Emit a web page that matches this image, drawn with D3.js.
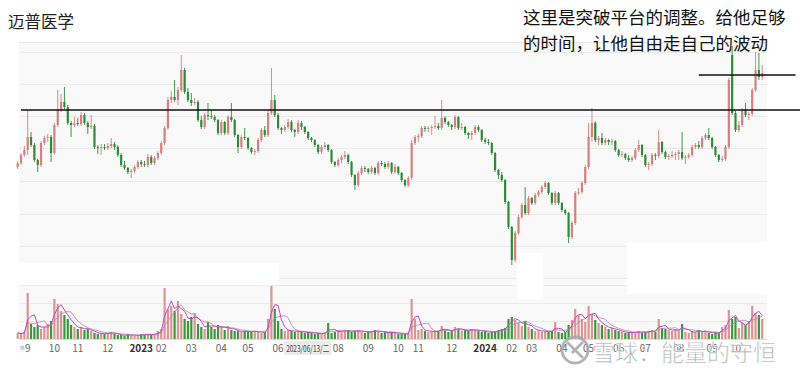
<!DOCTYPE html>
<html>
<head>
<meta charset="utf-8">
<script src="https://cdn.jsdelivr.net/npm/d3@7"></script>
<style>
body { margin: 0; background: #fff; }
svg { display: block; font-family: "Noto Sans CJK SC", "Noto Sans", sans-serif; }
</style>
</head>
<body>
<svg id="chart" width="800" height="378"></svg>
<script>
// daily-ish candles, [open, close, high, low]
var kline = [
	[13.3,13.7,13.9,13.1],[13.7,14.5,14.7,13.5],[14.5,15.0,15.4,14.3],[15.0,16.3,19.0,14.5],[16.3,15.5,16.8,15.3],
	[15.5,14.0,15.7,13.8],[14.0,13.5,14.1,12.8],[13.5,15.7,15.9,13.3],[15.7,16.2,16.4,15.5],[16.2,16.3,16.6,15.8],
	[16.3,14.7,16.5,13.8],[14.7,17.5,17.7,14.5],[17.5,19.0,21.0,17.3],[19.0,19.8,20.6,18.8],[19.8,19.3,21.3,19.1],
	[19.3,17.7,19.5,17.5],[17.7,17.5,17.9,16.3],[17.5,17.7,18.3,17.3],[17.7,17.6,18.2,17.4],[17.6,18.5,18.8,17.4],
	[18.5,17.7,18.7,17.5],[17.7,17.3,17.9,16.6],[17.3,17.4,18.5,17.1],[17.4,15.3,17.6,15.1],[15.3,15.2,15.5,14.6],
	[15.2,15.3,15.6,14.5],[15.3,15.2,15.6,15.0],[15.2,15.4,15.7,15.0],[15.4,15.6,16.2,15.2],[15.6,15.3,15.8,15.0],
	[15.3,14.5,15.5,14.3],[14.5,13.5,14.7,13.3],[13.5,13.2,13.9,13.0],[13.2,12.8,13.3,12.6],[12.8,12.9,13.1,12.2],
	[12.9,13.3,13.5,12.7],[13.3,13.8,14.0,13.1],[13.8,13.6,14.0,13.3],[13.6,13.5,13.9,13.3],[13.5,14.3,14.6,13.3],
	[14.3,13.7,14.5,13.5],[13.7,14.2,14.4,13.5],[14.2,14.7,14.9,14.0],[14.7,15.7,15.9,14.5],[15.7,17.2,17.4,15.5],
	[17.2,20.0,20.3,17.0],[20.0,20.3,20.9,19.7],[20.3,20.0,22.0,19.8],[20.0,21.0,21.3,19.5],[21.0,23.0,24.5,20.8],
	[23.0,20.8,23.2,20.6],[20.8,20.0,21.2,19.8],[20.0,19.7,20.7,19.4],[19.7,19.8,20.2,19.5],[19.8,18.0,20.0,17.8],
	[18.0,17.3,18.4,17.1],
	[17.3,18.5,18.7,17.1],[18.5,18.4,19.7,18.0],[18.4,18.3,19.0,18.1],[18.3,18.0,18.5,17.8],[18.0,16.7,18.1,16.5],
	[16.7,17.8,18.0,16.5],[17.8,16.7,17.9,16.5],[16.7,18.3,18.5,16.5],[18.3,18.0,19.7,17.8],[18.0,16.5,18.1,16.3],
	[16.5,15.3,16.6,14.7],[15.3,16.3,16.5,15.1],[16.3,16.2,17.2,16.0],[16.2,15.2,16.3,15.0],[15.2,14.8,15.3,14.6],
	[14.8,14.9,15.1,14.5],[14.9,16.0,16.2,14.7],[16.0,17.0,17.2,15.8],[17.0,16.5,17.4,16.3],[16.5,18.7,18.9,16.3],
	[18.7,20.0,23.2,18.5],[20.0,18.5,20.5,18.3],[18.5,17.2,18.7,17.0],[17.2,17.0,17.3,16.6],[17.0,17.3,17.5,16.8],
	[17.3,17.8,18.1,17.1],[17.8,17.0,18.0,16.8],[17.0,16.8,17.1,16.3],[16.8,17.7,18.0,16.6],[17.7,17.3,17.9,17.0],
	[17.3,16.8,17.4,16.6],[16.8,16.2,16.9,16.0],[16.2,16.0,16.3,15.8],[16.0,15.5,16.1,15.3],[15.5,14.8,15.6,14.6],
	[14.8,15.3,15.5,14.6],[15.3,15.5,15.8,15.1],[15.5,15.0,15.6,14.8],[15.0,13.8,15.1,13.6],[13.8,13.5,13.9,13.3],
	[13.5,14.0,14.2,13.3],[14.0,14.3,14.5,13.7],[14.3,14.5,14.9,14.1],[14.5,13.8,14.6,13.6],[13.8,12.5,13.9,12.3],
	[12.5,11.5,12.6,11.0],[11.5,12.7,12.9,11.3],[12.7,13.2,13.4,12.5],[13.2,13.1,13.4,12.8],[13.1,12.8,13.2,12.6],
	[12.8,13.2,13.4,12.6],[13.2,12.7,13.3,12.5],[12.7,13.7,13.9,12.5],[13.7,13.6,13.9,13.4],[13.6,13.3,13.8,13.1],
	[13.3,13.7,13.9,13.1],
	[13.7,12.8,13.8,12.6],[12.8,13.3,13.6,12.6],[13.3,12.7,13.4,12.5],[12.7,12.0,12.8,11.8],[12.0,11.5,12.1,11.3],
	[11.5,12.2,12.4,11.3],[12.2,15.7,16.0,12.0],[15.7,16.3,16.5,15.5],[16.3,16.4,16.6,15.8],[16.4,17.2,17.4,16.2],
	[17.2,17.1,17.4,16.8],[17.1,17.2,17.4,16.8],[17.2,17.3,17.5,16.5],[17.3,17.4,18.4,17.1],[17.4,17.2,17.7,17.0],
	[17.2,18.2,20.0,17.0],[18.2,17.8,18.4,17.6],[17.8,17.5,17.9,17.3],[17.5,17.3,17.6,17.0],[17.3,18.3,18.5,17.1],
	[18.3,17.2,18.4,17.0],[17.2,17.3,17.7,17.0],[17.3,16.7,17.4,16.5],[16.7,16.5,16.8,16.1],[16.5,16.7,16.9,16.0],
	[16.7,17.3,17.5,16.5],[17.3,17.0,17.5,16.8],[17.0,16.0,17.1,15.8],[16.0,15.8,16.2,15.6],[15.8,15.7,16.1,15.5],
	[15.7,14.7,15.8,14.5],[14.7,13.0,14.8,12.8],[13.0,12.5,13.1,12.1],[12.5,12.0,12.8,11.8],[12.0,9.8,12.1,9.6],
	[9.8,7.3,9.9,7.1],[7.3,4.0,7.4,3.5],[4.0,6.7,6.9,3.8],[6.7,8.3,8.5,6.5],[8.3,9.5,9.7,8.1],
	[9.5,8.7,11.3,8.5],[8.7,10.2,10.4,8.5],[10.2,9.7,10.3,9.5],[9.7,10.5,10.7,9.5],[10.5,10.8,11.0,10.3],
	[10.8,11.3,11.5,10.6],[11.3,11.7,11.9,11.1],[11.7,10.7,11.8,10.5],[10.7,9.7,10.8,9.5],[9.7,10.7,10.9,9.5],
	[10.7,9.7,10.8,9.5],[9.7,9.0,9.8,8.8],[9.0,8.7,9.1,8.5],[8.7,6.3,8.8,5.7],[6.3,7.7,7.9,6.1],
	[7.7,10.7,10.9,7.5],[10.7,10.8,11.2,10.5],[10.8,11.7,11.9,10.6],[11.7,13.3,13.5,11.5],[13.3,16.3,17.7,13.1],
	[16.3,17.7,19.2,15.8],[17.7,16.0,17.9,15.8],[16.0,16.2,16.4,15.5],[16.2,15.7,16.7,15.5],[15.7,16.0,16.2,15.5],
	[16.0,15.8,16.1,15.5],[15.8,15.9,16.1,15.5],[15.9,15.0,16.0,14.8],[15.0,14.5,15.1,14.3],[14.5,14.6,14.9,14.3],
	[14.6,14.2,14.7,14.0],[14.2,14.0,14.5,13.8],[14.0,14.2,14.4,13.8],[14.2,15.0,15.2,14.0],[15.0,15.5,16.0,14.8],
	[15.5,14.5,15.6,14.3],[14.5,13.5,14.6,13.3],[13.5,13.6,13.8,13.0],[13.6,14.5,14.7,13.4],[14.5,14.4,14.7,14.0],
	[14.4,15.8,17.0,14.2],[15.8,14.8,15.9,14.6],[14.8,14.3,14.9,14.1],[14.3,14.4,14.6,14.0],[14.4,14.5,14.9,14.2],
	[14.5,14.6,14.8,14.0],[14.6,14.8,15.0,14.0],[14.8,14.2,16.8,14.0],[14.2,14.3,14.5,13.6],[14.3,14.5,14.7,14.1],
	[14.5,15.3,15.5,14.3],[15.3,15.5,15.7,15.1],[15.5,15.3,15.9,15.1],[15.3,16.2,16.4,15.1],[16.2,16.5,16.7,16.0],
	[16.5,16.2,17.2,16.0],[16.2,15.3,16.3,15.1],[15.3,14.5,15.4,14.3],[14.5,14.0,14.6,13.8],[14.0,14.1,14.4,13.8],
	[14.1,15.3,15.5,13.9],[15.3,22.0,22.2,15.1],[24.5,18.7,25.4,18.5],[18.7,17.0,18.9,16.8],[17.0,17.5,17.9,16.8],
	[17.5,19.0,19.2,17.3],[19.0,18.5,19.7,18.3],[18.5,18.6,18.8,18.0],[18.6,21.0,21.2,18.4],[21.0,23.0,24.8,20.8],
	[23.0,22.3,24.7,22.0],[22.3,22.7,23.5,22.0]
];

var volume = [
	6,5,7,46,15,12,14,10,12,15, 18,40,35,28,24,20,14,12,10,12,
	9,10,8,6,5,6,5,6,7,5, 4,4,3,5,4,3,4,5,4,5,
	4,5,8,10,51,30,33,28,38,25, 20,18,22,26,15,12,10,17,12,10,
	14,12,9,13,9,8,8,7,8,8, 7,8,7,6,7,20,53,30,18,10,
	8,9,8,7,8,7,6,7,6,5, 6,5,6,16,6,7,9,7,8,9,
	7,8,9,7,6,8,7,9,8,6, 7,6,7,6,5,5,5,6,40,20,
	9,10,8,7,8,7,8,13,8,7, 9,12,10,8,9,8,10,9,8,7,
	8,6,7,8,9,10,11,20,22,19, 16,13,18,12,10,8,9,7,8,7,
	8,17,7,6,7,14,19,30,24,20, 17,33,25,19,16,14,12,10,11,9,
	8,7,6,7,6,7,8,6,7,8, 9,7,20,11,10,9,8,10,9,15,
	7,6,8,7,9,7,8,6,5,7, 6,12,14,29,20,22,11,16,14,18,
	33,26,24,20
];

// month start labels ("07" of 2023 sits under the cursor date box)
var monthNames = ["9","10","11","12","2023","02","03","04","05","06","08","09","10","11","12","2024","02","03","04","05","06","07","08","09","10"];
var monthIdx = [3,11,18,27,37,43,52,61,69,78,96,105,114,120,130,140,148,154,163,171,180,188,198,208,215];
var priceGrid = [2.2,5.4,8.6,11.9,15.2,18.4,21.6,24.8];
var volumeGrid = [18,36];
var levels = [
	{ price: 19.0, from: 1, to: 235 },
	{ price: 22.5, from: 204, to: 233 }
];
var title = "迈普医学";
var note = ["这里是突破平台的调整。给他足够", "的时间，让他自由走自己的波动"];
var cursorLabel = { idx: 87, text: "2023/06/13/二" };
var watermark = "雪球：能量的守恒";

var svg = d3.select("#chart"),
	width = +svg.attr("width"),
	height = +svg.attr("height");

var plot = { left: 19, right: 767, top: 42, bottom: 283, volTop: 285, volBottom: 339 };
var upColor = "#d3807f",
	downColor = "#2e8b35";

var x = d3.scaleBand()
	.domain(d3.range(kline.length))
	.range([16.6, 763.3])
	.paddingInner(0.35);
var xi = d3.scaleLinear()
	.domain([0, kline.length - 1])
	.range([x(0) + x.bandwidth() / 2, x(kline.length - 1) + x.bandwidth() / 2]);
var y = d3.scaleLinear().domain([1.7, 25.8]).range([plot.bottom, plot.top]);
var yv = d3.scaleLinear().domain([0, 54]).range([plot.volBottom, plot.volTop]);

function isUp(d) { return d[1] >= d[0]; }

// backgrounds
svg.append("rect")
	.attr("x", plot.left).attr("y", plot.top)
	.attr("width", plot.right - plot.left).attr("height", plot.bottom - plot.top)
	.attr("fill", "#f9f9f9");
svg.append("rect")
	.attr("x", plot.left).attr("y", plot.volTop)
	.attr("width", plot.right - plot.left).attr("height", plot.volBottom - plot.volTop)
	.attr("fill", "#f9f9f9");
svg.append("line")
	.attr("x1", plot.left).attr("x2", plot.right)
	.attr("y1", plot.top + 0.5).attr("y2", plot.top + 0.5)
	.attr("stroke", "#e8e8e8");

// grid lines via axes
svg.append("g")
	.attr("transform", "translate(" + plot.left + ",0)")
	.call(d3.axisRight(y).tickValues(priceGrid).tickSize(plot.right - plot.left).tickFormat(""))
	.call(function(g) {
		g.select(".domain").remove();
		g.selectAll("line").attr("stroke", "#ebebeb");
	});
svg.append("g")
	.attr("transform", "translate(" + plot.left + ",0)")
	.call(d3.axisRight(yv).tickValues(volumeGrid.concat([54])).tickSize(plot.right - plot.left).tickFormat(""))
	.call(function(g) {
		g.select(".domain").remove();
		g.selectAll("line").attr("stroke", "#ebebeb");
	});
svg.append("line")
	.attr("x1", plot.left).attr("x2", plot.right)
	.attr("y1", plot.volBottom + 0.5).attr("y2", plot.volBottom + 0.5)
	.attr("stroke", "#dcdcdc");

// candles
var g_k = svg.append("g").attr("id", "kline");
var k = g_k.selectAll("g").data(kline).enter().append("g");
k.append("line")
	.attr("x1", function(d, i) { return xi(i); })
	.attr("x2", function(d, i) { return xi(i); })
	.attr("y1", function(d) { return y(d[2]); })
	.attr("y2", function(d) { return y(d[3]); })
	.attr("stroke", function(d) { return isUp(d) ? upColor : downColor; })
	.attr("stroke-width", 0.9);
k.append("rect")
	.attr("x", function(d, i) { return x(i); })
	.attr("width", x.bandwidth())
	.attr("y", function(d) { return y(Math.max(d[0], d[1])); })
	.attr("height", function(d) { return Math.max(1, Math.abs(y(d[0]) - y(d[1]))); })
	.attr("fill", function(d) { return isUp(d) ? upColor : downColor; });

// volume bars
svg.append("g").attr("id", "volume").selectAll("rect").data(volume).enter()
	.append("rect")
	.attr("x", function(d, i) { return x(i); })
	.attr("width", x.bandwidth())
	.attr("y", function(d) { return yv(d); })
	.attr("height", function(d) { return yv(0) - yv(d); })
	.attr("fill", function(d, i) { return isUp(kline[i]) ? "#d99493" : "#3b963c"; });

// volume moving averages
function movingAvg(arr, n) {
	return arr.map(function(v, i) {
		var s = arr.slice(Math.max(0, i - n + 1), i + 1);
		return d3.mean(s);
	});
}
var maLine = d3.line()
	.x(function(d, i) { return xi(i); })
	.y(function(d) { return yv(d); });
svg.append("path").attr("d", maLine(movingAvg(volume, 6)))
	.attr("fill", "none").attr("stroke", "#a48ea4").attr("stroke-width", 0.8);
svg.append("path").attr("d", maLine(movingAvg(volume, 3)))
	.attr("fill", "none").attr("stroke", "#cc44cc").attr("stroke-width", 1);

// covered patches (white boxes in screenshot)
var patches = [[19, 263, 260, 21], [517, 253, 26, 46], [627, 242, 173, 52]];
svg.append("g").selectAll("rect").data(patches).enter().append("rect")
	.attr("x", function(d) { return d[0]; }).attr("y", function(d) { return d[1]; })
	.attr("width", function(d) { return d[2]; }).attr("height", function(d) { return d[3]; })
	.attr("fill", "#fff");

// month labels
svg.append("g").attr("id", "months").selectAll("text").data(monthNames).enter()
	.append("text")
	.attr("x", function(d, i) { return xi(monthIdx[i]); })
	.attr("y", 352)
	.attr("text-anchor", "middle")
	.attr("font-size", 10)
	.attr("font-weight", function(d) { return d.length == 4 ? "bold" : "normal"; })
	.attr("fill", function(d) { return d.length == 4 ? "#333" : "#666"; })
	.text(function(d) { return d; });
svg.append("text").attr("x", 20).attr("y", 351).attr("font-size", 11).attr("fill", "#999").text("«");

// cursor date label
var cx = xi(cursorLabel.idx);
svg.append("rect").attr("x", cx - 24).attr("y", 341).attr("width", 47).attr("height", 14).attr("fill", "#ececec");
svg.append("text").attr("x", cx - 22).attr("y", 351.5)
	.attr("font-size", 9).attr("fill", "#444")
	.attr("textLength", 43).attr("lengthAdjust", "spacingAndGlyphs")
	.text(cursorLabel.text);

// hand-drawn level lines
svg.append("g").selectAll("line").data(levels).enter().append("line")
	.attr("x1", function(d) { return xi(d.from); })
	.attr("x2", function(d) { return xi(d.to); })
	.attr("y1", function(d) { return y(d.price); })
	.attr("y2", function(d) { return y(d.price); })
	.attr("stroke", "#111").attr("stroke-width", 1.5);

// title and note
svg.append("text").attr("x", 8).attr("y", 28).attr("font-size", 16.5).attr("fill", "#222").text(title);
svg.append("g").selectAll("text").data(note).enter().append("text")
	.attr("x", 523)
	.attr("y", function(d, i) { return 24 + i * 26; })
	.attr("font-size", 17.5).attr("fill", "#111")
	.text(function(d) { return d; });

// watermark
var wm = svg.append("g").attr("opacity", 0.85);
wm.append("circle").attr("cx", 575).attr("cy", 350).attr("r", 13)
	.attr("fill", "none").attr("stroke", "#a8a8a8").attr("stroke-width", 2.8);
wm.append("path").attr("d", "M567,342 L583,358 M583,342 L572,353")
	.attr("fill", "none").attr("stroke", "#a8a8a8").attr("stroke-width", 2.8);
wm.append("text").attr("x", 592).attr("y", 361).attr("font-size", 23)
	.attr("fill", "#a6a6a6").attr("stroke", "#fff").attr("stroke-width", 0.6)
	.text(watermark);
</script>
</body>
</html>
